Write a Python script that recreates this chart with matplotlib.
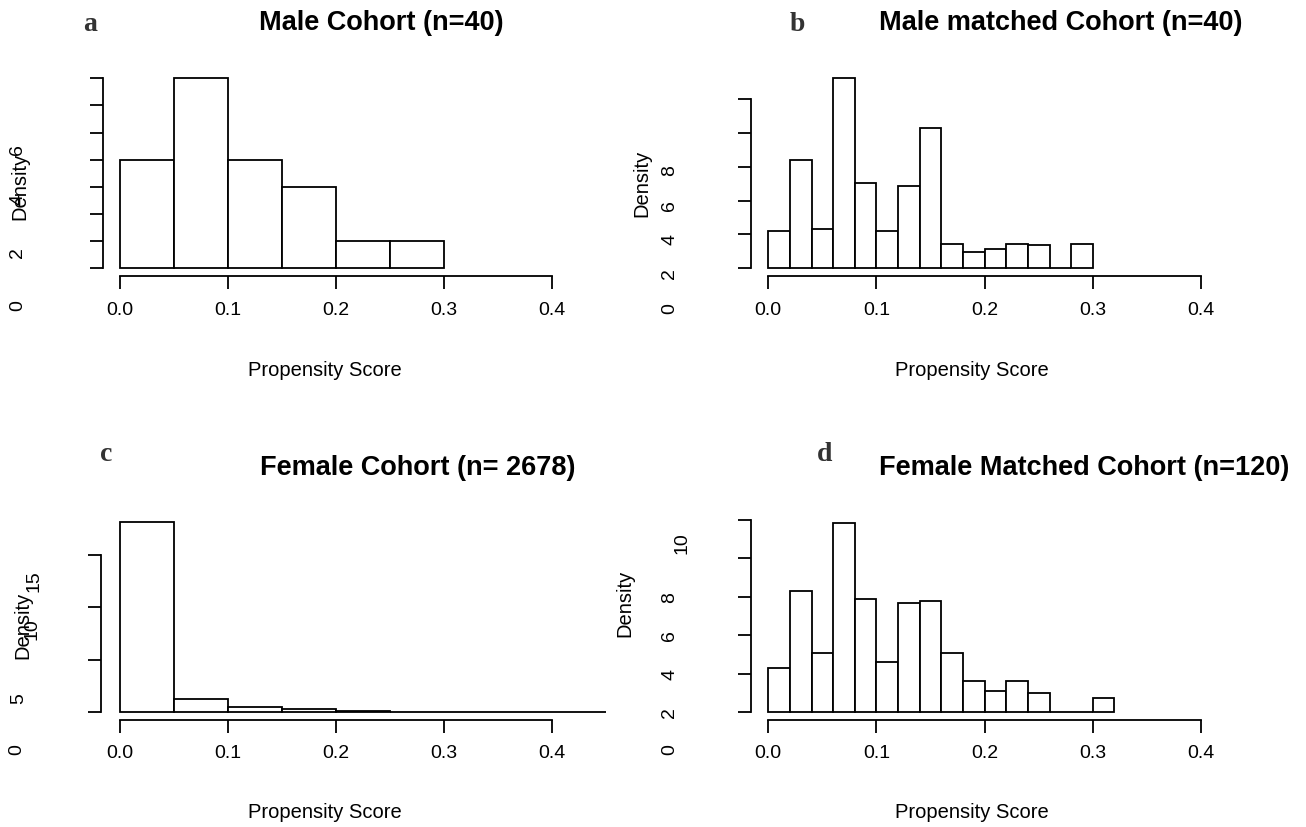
import matplotlib
matplotlib.use("Agg")
import matplotlib.pyplot as plt
from matplotlib.transforms import offset_copy
import numpy as np

W, H = 1306, 827
plt.rcParams['font.family'] = ['Liberation Sans', 'DejaVu Sans']

# ---- data (density per bin) ----
male_edges = [0.00, 0.05, 0.10, 0.15, 0.20, 0.25, 0.30]
male_density = [4, 7, 4, 3, 1, 1]

male_matched_edges = [0.00, 0.02, 0.04, 0.06, 0.08, 0.10, 0.12, 0.14,
                      0.16, 0.18, 0.20, 0.22, 0.24, 0.26, 0.28, 0.30]
male_matched_density = [2.23, 6.41, 2.31, 11.24, 5.03, 2.23, 4.85, 8.32,
                        1.46, 0.97, 1.16, 1.46, 1.36, 0.0, 1.46]

female_edges = [0.00, 0.05, 0.10, 0.15, 0.20, 0.25, 0.30, 0.35, 0.40, 0.45]
female_density = [18.1, 1.21, 0.45, 0.25, 0.13, 0.03, 0.01, 0.005, 0.0]

female_matched_edges = [0.00, 0.02, 0.04, 0.06, 0.08, 0.10, 0.12, 0.14, 0.16,
                        0.18, 0.20, 0.22, 0.24, 0.26, 0.28, 0.30, 0.32]
female_matched_density = [2.27, 6.28, 3.04, 9.83, 5.85, 2.61, 5.66, 5.76,
                          3.04, 1.61, 1.09, 1.61, 1.00, 0.0, 0.0, 0.74]

x_ticks = [0.0, 0.1, 0.2, 0.3, 0.4]
x_ticklabels = ["0.0", "0.1", "0.2", "0.3", "0.4"]

titles = ["Male Cohort (n=40)", "Male matched Cohort (n=40)",
          "Female Cohort (n= 2678)", "Female Matched Cohort (n=120)"]
letters = ["a", "b", "c", "d"]

# y tick marks and the (shifted) labels as they appear in the figure
y_ticks = [[0, 1, 2, 3, 4, 5, 6, 7], [0, 2, 4, 6, 8, 10],
           [0, 5, 10, 15], [0, 2, 4, 6, 8, 10]]
y_labels = [["0", "2", "4", "6"], ["0", "2", "4", "6", "8"],
            ["0", "5", "10", "15"], ["0", "2", "4", "6", "8", "10"]]
y_label_vals = [[0, 2, 4, 6], [0, 2, 4, 6, 8], [0, 5, 10, 15], [0, 2, 4, 6, 8, 10]]
# label offsets in pixels (dx from axis, dy downwards)
y_label_dx = [[-85] * 4, [-81] * 5, [-84, -82, -69, -67], [-81] * 5 + [-69]]
y_label_dy = [[37, 39, 40, 44], [40, 39, 39, 39, 37], [38, 39, 22, 26],
              [38, 39, 40, 39, 40, 24]]

# layout: pixel of x=0, px per unit x, pixel of y=0, px per unit y, limits
layout = [
    dict(x0=120, sx=1080, y0=268.3, sy=27.14, xlim=(-0.016, 0.416), ylim=(-0.28, 7.28)),
    dict(x0=768.3, sx=1081.7, y0=268.3, sy=16.9, xlim=(-0.016, 0.416), ylim=(-0.45, 11.69)),
    dict(x0=120, sx=1080, y0=712, sy=10.47, xlim=(-0.018, 0.468), ylim=(-0.72, 18.8)),
    dict(x0=768.3, sx=1081.7, y0=712, sy=19.25, xlim=(-0.016, 0.416), ylim=(-0.39, 10.2)),
]
title_pos = [(381, 30), (1061, 30), (418, 475), (1084, 475)]
letter_pos = [(90, 31), (797, 31), (106, 461), (825, 461)]
density_pos = [(20, 186), (642, 183), (23, 625), (625, 603)]
xlabel_pos = [(325, 370), (972, 370), (325, 813), (972, 813)]

edges_all = [male_edges, male_matched_edges, female_edges, female_matched_edges]
dens_all = [male_density, male_matched_density, female_density, female_matched_density]

LW = 1.3

fig = plt.figure(figsize=(W / 100, H / 100), dpi=100)


def px(x, y):
    return x / W, 1 - y / H


for i in range(4):
    L = layout[i]
    left = L["x0"] + L["xlim"][0] * L["sx"]
    right = L["x0"] + L["xlim"][1] * L["sx"]
    bot = L["y0"] - L["ylim"][0] * L["sy"]
    top = L["y0"] - L["ylim"][1] * L["sy"]
    ax = fig.add_axes([left / W, 1 - bot / H, (right - left) / W, (bot - top) / H])
    ax.patch.set_visible(False)

    edges = np.array(edges_all[i])
    ax.bar(edges[:-1], dens_all[i], width=np.diff(edges), align="edge",
           facecolor="white", edgecolor="black", linewidth=LW)
    ax.set_xlim(L["xlim"])
    ax.set_ylim(L["ylim"])

    for s in ["top", "right"]:
        ax.spines[s].set_visible(False)
    for s in ["left", "bottom"]:
        ax.spines[s].set_linewidth(LW)
    ax.spines["left"].set_bounds(y_ticks[i][0], y_ticks[i][-1])
    ax.spines["bottom"].set_bounds(0, 0.4)

    ax.set_xticks(x_ticks)
    ax.set_xticklabels(x_ticklabels)
    ax.set_yticks(y_ticks[i])
    ax.tick_params(axis="y", labelleft=False)
    ax.tick_params(direction="out", length=9.5, width=LW, labelsize=14, pad=9)

    # misplaced y tick labels, as in the reference
    for v, lab, dx, dy in zip(y_label_vals[i], y_labels[i], y_label_dx[i], y_label_dy[i]):
        tr = offset_copy(ax.get_yaxis_transform(), fig=fig, x=dx, y=-dy, units="dots")
        ax.text(0, v, lab, transform=tr, rotation=90, ha="center", va="center",
                fontsize=14, clip_on=False)

    fig.text(*px(*title_pos[i]), titles[i], ha="center", va="baseline",
             fontsize=19.5, fontweight="bold")
    fig.text(*px(*letter_pos[i]), letters[i], ha="center", va="baseline",
             fontsize=20, fontweight="bold", color="#333333",
             family=["Liberation Serif", "DejaVu Serif"])
    fig.text(*px(*density_pos[i]), "Density", rotation=90, ha="center",
             va="center", fontsize=14.5)
    fig.text(*px(*xlabel_pos[i]), "Propensity Score", ha="center",
             va="center", fontsize=14.5)

fig.savefig("out.png", dpi=100)
